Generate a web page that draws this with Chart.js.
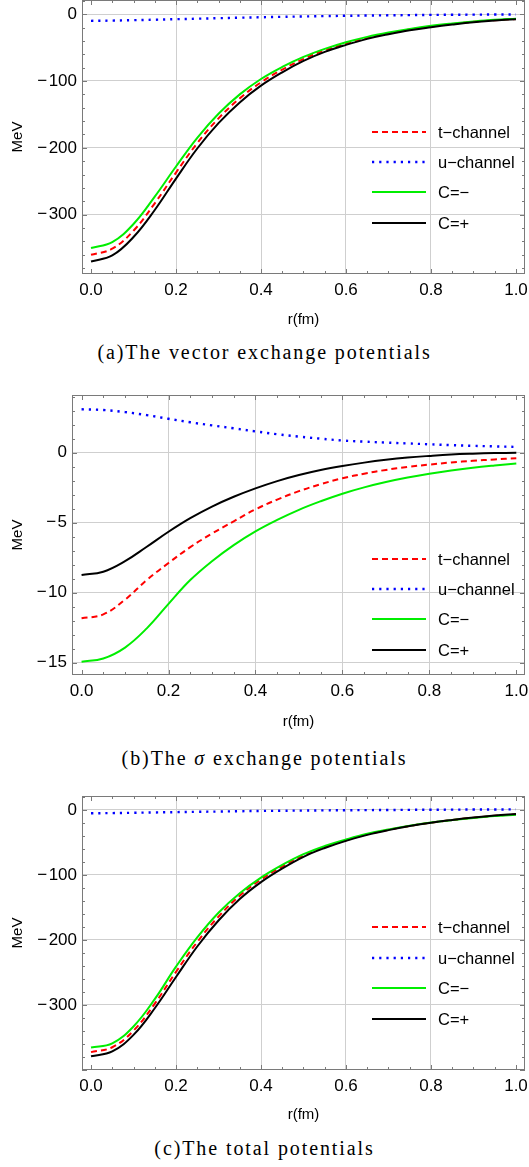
<!DOCTYPE html>
<html>
<head>
<meta charset="utf-8">
<script src="https://cdn.jsdelivr.net/npm/chart.js@4.4.0/dist/chart.umd.min.js"></script>
<style>
  body { margin: 0; background: #fff; width: 529px; height: 1167px; position: relative; overflow: hidden; }
  canvas { position: absolute; left: 0; }
  .cap { position: absolute; left: 0; width: 529px; text-align: center; font-family: "Liberation Serif", serif;
         font-size: 20px; line-height: 20px; letter-spacing: 1.9px; color: #000; white-space: nowrap; }
</style>
</head>
<body>
<canvas id="chartA" width="529" height="340" style="top:0px"></canvas>
<canvas id="chartB" width="529" height="362" style="top:380px"></canvas>
<canvas id="chartC" width="529" height="355" style="top:780px"></canvas>
<div class="cap" style="top:342px">(a)The vector exchange potentials</div>
<div class="cap" style="top:748px">(b)The <i>σ</i> exchange potentials</div>
<div class="cap" style="top:1138px">(c)The total potentials</div>
<script>
// r in fm
const r = [0, 0.05, 0.1, 0.15, 0.2, 0.25, 0.3, 0.35, 0.4, 0.45, 0.5, 0.55, 0.6, 0.65, 0.7, 0.75, 0.8, 0.85, 0.9, 0.95, 1.0];

// (a) vector exchange, MeV
const tVec = [-360, -351, -324, -283, -237, -193, -156, -126, -102, -83, -67, -54, -44, -35.5, -28.8, -23, -18.5, -14.8, -11.5, -9, -7.2];
const uVec = [-10, -9.6, -9, -8.3, -7.5, -6.8, -6, -5.3, -4.6, -4, -3.4, -2.9, -2.4, -2, -1.7, -1.4, -1.1, -0.9, -0.7, -0.5, -0.4];
const cMinusVec = [-350, -341, -314, -273, -228, -185, -149, -120, -97, -79, -64, -52, -42, -34, -27.5, -22, -17.5, -14, -11, -8.5, -6.8];
const cPlusVec = [-370, -361, -333.5, -293, -246, -201, -163, -132, -107, -87, -70, -56.5, -46, -37, -30, -24, -19.5, -15.5, -12, -9.5, -7.5];

// (b) sigma exchange, MeV
const tSig = [-11.83, -11.55, -10.5, -9.1, -7.88, -6.75, -5.78, -4.9, -4.05, -3.35, -2.75, -2.25, -1.83, -1.5, -1.23, -1.02, -0.85, -0.7, -0.58, -0.48, -0.39];
const uSig = [3.1, 3.05, 2.9, 2.68, 2.42, 2.17, 1.95, 1.74, 1.52, 1.32, 1.15, 1.0, 0.87, 0.79, 0.72, 0.66, 0.6, 0.54, 0.49, 0.45, 0.41];
const cMinusSig = [-14.93, -14.7, -13.92, -12.55, -10.8, -9.1, -7.75, -6.6, -5.62, -4.8, -4.08, -3.47, -2.93, -2.48, -2.1, -1.78, -1.51, -1.28, -1.08, -0.92, -0.78];
const cPlusSig = [-8.74, -8.5, -7.75, -6.72, -5.65, -4.68, -3.85, -3.15, -2.55, -2.03, -1.6, -1.24, -0.95, -0.71, -0.51, -0.35, -0.23, -0.13, -0.07, -0.03, 0];

// (c) total, MeV
const tTot = [-372.5, -365, -339.5, -298, -249, -203, -164, -132, -107, -87, -70, -57, -46.5, -37.5, -30.5, -24.5, -19.5, -15.5, -12, -9, -6.7];
const uTot = [-5.1, -4.8, -4.3, -3.8, -3.3, -2.8, -2.4, -1.9, -1.5, -1.2, -0.9, -0.6, -0.4, -0.2, 0, 0.2, 0.4, 0.5, 0.7, 0.8, 0.9];
const cMinusTot = [-365.5, -359, -333, -291, -241, -196, -158, -128, -104, -84.5, -68, -55.5, -45.5, -36.7, -30, -24.2, -19.4, -15.6, -12.3, -9.4, -7.2];
const cPlusTot = [-379, -371.5, -346, -305, -257, -210, -170, -137, -111, -90, -72, -58.5, -47.5, -38.3, -31, -24.8, -19.6, -15.4, -11.7, -8.6, -6.2];

const seriesNames = ['t\u2212channel', 'u\u2212channel', 'C=\u2212', 'C=+'];
const xTicks = [0, 0.2, 0.4, 0.6, 0.8, 1.0];
const xTickLabels = ['0.0', '0.2', '0.4', '0.6', '0.8', '1.0'];
const yTicksA = [0, -100, -200, -300];
const yTickLabelsA = ['0', '\u2212\u200a100', '\u2212\u200a200', '\u2212\u200a300'];
const yTicksB = [0, -5, -10, -15];
const yTickLabelsB = ['0', '\u2212\u200a5', '\u2212\u200a10', '\u2212\u200a15'];
const yTicksC = [0, -100, -200, -300];
const yTickLabelsC = ['0', '\u2212\u200a100', '\u2212\u200a200', '\u2212\u200a300'];

const sans = '"Liberation Sans", Arial, sans-serif';
const styles = [
  { color: '#ff0000', dash: [6, 4], width: 2 },
  { color: '#0000ff', dash: [2.2, 5], width: 2.4 },
  { color: '#00ee00', dash: [], width: 2 },
  { color: '#000000', dash: [], width: 2 }
];

// frame with inward ticks on all four sides, plus the in-plot legend
const framePlugin = {
  id: 'frame',
  afterDatasetsDraw(chart, args, opts) {
    const { ctx, chartArea: a, scales: { x, y } } = chart;
    ctx.save();
    ctx.strokeStyle = '#7a7a7a';
    ctx.lineWidth = 1;
    ctx.setLineDash([]);
    ctx.strokeRect(a.left + 0.5, a.top + 0.5, a.width - 1, a.height - 1);
    ctx.beginPath();
    for (let i = 0; i <= 20; i++) {
      const v = i * 0.05;
      const px = Math.round(x.getPixelForValue(v)) + 0.5;
      const len = i % 4 === 0 ? 5 : 3;
      ctx.moveTo(px, a.bottom); ctx.lineTo(px, a.bottom - len);
      ctx.moveTo(px, a.top); ctx.lineTo(px, a.top + len);
    }
    const start = Math.ceil(y.min / opts.minor) * opts.minor;
    for (let v = start; v <= y.max + 1e-9; v += opts.minor) {
      const py = Math.round(y.getPixelForValue(v)) + 0.5;
      const major = Math.abs(v / opts.major - Math.round(v / opts.major)) < 1e-6;
      const len = major ? 5 : 3;
      ctx.moveTo(a.left, py); ctx.lineTo(a.left + len, py);
      ctx.moveTo(a.right, py); ctx.lineTo(a.right - len, py);
    }
    ctx.stroke();

    // legend
    ctx.font = '16.5px ' + sans;
    ctx.textBaseline = 'middle';
    ctx.textAlign = 'left';
    chart.data.datasets.forEach((ds, i) => {
      const yy = a.top + opts.rows[i];
      ctx.strokeStyle = ds.borderColor;
      ctx.lineWidth = ds.borderWidth;
      ctx.setLineDash(ds.borderDash);
      ctx.beginPath();
      ctx.moveTo(a.right - 153, yy);
      ctx.lineTo(a.right - 99, yy);
      ctx.stroke();
      ctx.fillStyle = '#000';
      ctx.fillText(ds.label, a.right - 87, yy + 1);
    });
    ctx.restore();
  }
};

function makeChart(id, series, p) {
  const datasets = series.map((vals, i) => ({
    label: seriesNames[i],
    data: vals.map((v, k) => ({ x: r[k], y: v })),
    borderColor: styles[i].color,
    borderWidth: styles[i].width,
    borderDash: styles[i].dash,
    borderCapStyle: 'butt',
    pointRadius: 0,
    fill: false,
    tension: 0.4,
    order: 3 - i
  }));
  return new Chart(document.getElementById(id), {
    type: 'line',
    data: { datasets },
    plugins: [framePlugin],
    options: {
      responsive: false,
      animation: false,
      layout: { padding: { top: p.padTop, right: 4, left: 0, bottom: 0 } },
      plugins: {
        legend: { display: false },
        tooltip: { enabled: false },
        frame: { minor: p.minor, major: p.major, rows: p.rows }
      },
      scales: {
        x: {
          type: 'linear',
          min: p.xMin, max: p.xMax,
          afterFit: s => { s.height = p.xAxisHeight; s.paddingLeft = 0; s.paddingRight = 0; },
          afterBuildTicks: s => { s.ticks = xTicks.map(v => ({ value: v })); },
          grid: {
            drawTicks: false,
            color: c => (c.tick && (c.tick.value === 0 || c.tick.value === 1)) ? 'rgba(0,0,0,0)' : '#cfcfcf'
          },
          border: { display: false },
          ticks: {
            padding: 6,
            color: '#000',
            font: { family: sans, size: 17 },
            maxRotation: 0,
            callback: v => xTickLabels[xTicks.indexOf(v)]
          },
          title: { display: true, text: 'r(fm)', color: '#000', font: { family: sans, size: 15 }, padding: { bottom: 11, top: 0 } }
        },
        y: {
          type: 'linear',
          min: p.yMin, max: p.yMax,
          afterFit: s => { s.width = p.left; s.paddingTop = 0; s.paddingBottom = 0; },
          afterBuildTicks: s => { s.ticks = p.yTicks.map(v => ({ value: v })); },
          grid: { drawTicks: false, color: '#cfcfcf' },
          border: { display: false },
          ticks: {
            padding: 5,
            color: '#000',
            font: { family: sans, size: 17 },
            callback: v => p.yLabels[p.yTicks.indexOf(v)]
          },
          title: { display: true, text: 'MeV', color: '#000', font: { family: sans, size: 15 }, padding: { top: 9, bottom: 0 } }
        }
      }
    }
  });
}

makeChart('chartA', [tVec, uVec, cMinusVec, cPlusVec], {
  padTop: 0, left: 82, xAxisHeight: 340 - 274,
  xMin: -0.0212, xMax: 1.0212, yMin: -388.8, yMax: 21.2,
  yTicks: yTicksA, yLabels: yTickLabelsA, minor: 20, major: 100,
  rows: [132, 162, 192, 223]
});
makeChart('chartB', [tSig, uSig, cMinusSig, cPlusSig], {
  padTop: 15, left: 72, xAxisHeight: 362 - 295,
  xMin: -0.022, xMax: 1.02, yMin: -15.88, yMax: 4.12,
  yTicks: yTicksB, yLabels: yTickLabelsB, minor: 1, major: 5,
  rows: [164, 194, 224, 255]
});
makeChart('chartC', [tTot, uTot, cMinusTot, cPlusTot], {
  padTop: 16, left: 82, xAxisHeight: 355 - 290,
  xMin: -0.0212, xMax: 1.0212, yMin: -400, yMax: 21.5,
  yTicks: yTicksC, yLabels: yTickLabelsC, minor: 20, major: 100,
  rows: [131, 162, 192, 223]
});
</script>
</body>
</html>
